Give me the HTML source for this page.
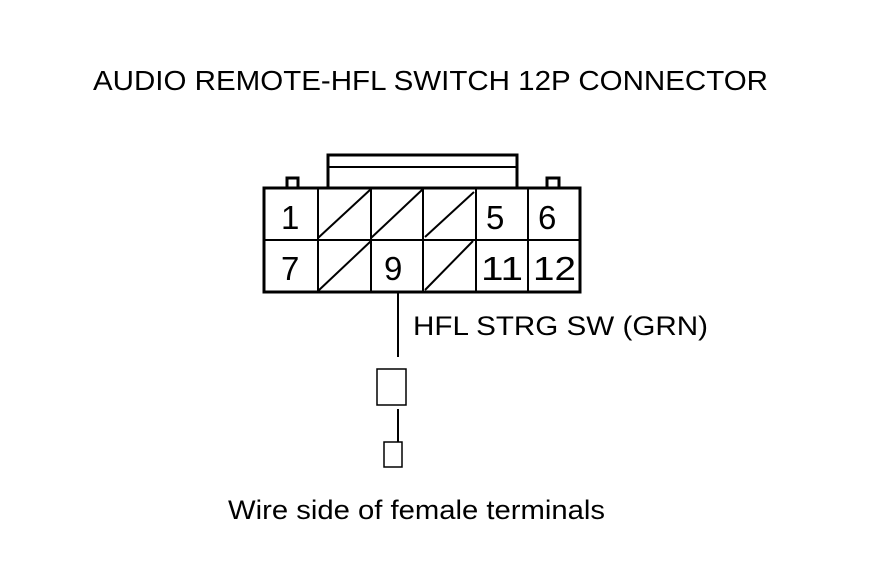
<!DOCTYPE html>
<html><head><meta charset="utf-8"><style>
html,body{margin:0;padding:0;background:#fff;}
svg{display:block;}
text{font-family:"Liberation Sans",Arial,sans-serif;fill:#000;}
</style></head><body>
<svg width="880" height="578" viewBox="0 0 880 578">
<text x="93" y="90" font-size="28" textLength="675" lengthAdjust="spacingAndGlyphs">AUDIO REMOTE-HFL SWITCH 12P CONNECTOR</text>
<g fill="none" stroke="#000" stroke-width="3">
<polyline points="328,188 328,155 517,155 517,188"/>
<line x1="328" y1="167" x2="517" y2="167" stroke-width="2"/>
<polyline points="287,188 287,178 298,178 298,188"/>
<polyline points="547,188 547,178 559,178 559,188"/>
<rect x="264" y="188" width="316" height="104"/>
<line x1="264" y1="240" x2="580" y2="240" stroke-width="2"/>
<g stroke-width="2">
<line x1="318" y1="188" x2="318" y2="292"/>
<line x1="371" y1="188" x2="371" y2="292"/>
<line x1="423" y1="188" x2="423" y2="292"/>
<line x1="476" y1="188" x2="476" y2="292"/>
<line x1="528" y1="188" x2="528" y2="292"/>
<line x1="318" y1="238" x2="371" y2="189"/>
<line x1="371" y1="238" x2="423" y2="189"/>
<line x1="425" y1="237" x2="474" y2="192"/>
<line x1="318" y1="291" x2="371" y2="241"/>
<line x1="425" y1="290" x2="473" y2="241"/>
<line x1="398" y1="292" x2="398" y2="357"/>
<line x1="398" y1="409" x2="398" y2="442"/>
</g>
<rect x="377" y="369" width="29" height="36" stroke-width="1.5"/>
<rect x="384" y="442" width="18" height="25" stroke-width="1.5"/>
</g>
<g font-size="33">
<text x="281" y="229">1</text>
<text x="486" y="229">5</text>
<text x="538" y="229">6</text>
<text x="281" y="280">7</text>
<text x="384" y="280">9</text>
<text x="481" y="280" textLength="42" lengthAdjust="spacingAndGlyphs">11</text>
<text x="533" y="280" textLength="43" lengthAdjust="spacingAndGlyphs">12</text>
</g>
<text x="413" y="335" font-size="27" textLength="295" lengthAdjust="spacingAndGlyphs">HFL STRG SW (GRN)</text>
<text x="228" y="519" font-size="27" textLength="377" lengthAdjust="spacingAndGlyphs">Wire side of female terminals</text>
</svg>
</body></html>
